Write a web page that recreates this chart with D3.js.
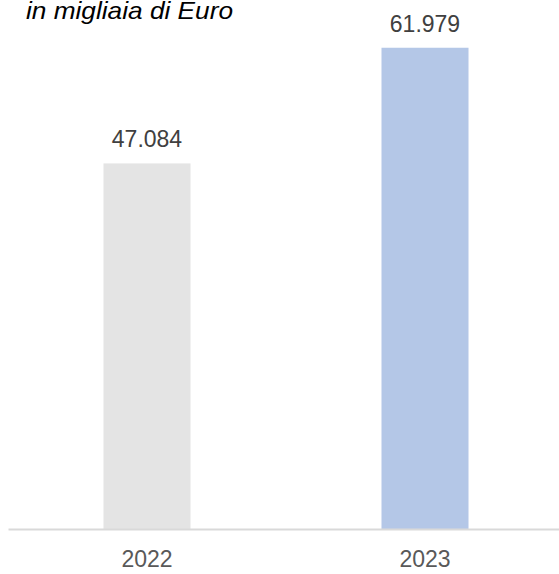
<!DOCTYPE html>
<html>
<head>
<meta charset="utf-8">
<script src="https://cdn.jsdelivr.net/npm/d3@7/dist/d3.min.js"></script>
<style>
  html, body { margin: 0; padding: 0; background: #ffffff; }
  svg { display: block; }
</style>
</head>
<body>
<svg id="chart" width="559" height="574"></svg>
<script>
// Revenue by year, thousands of euro
const years = ["2022", "2023"];
const values = [47084, 61979];
const valueLabels = ["47.084", "61.979"];
const barColors = ["#e4e4e4", "#b4c7e7"];
const unitNote = "in migliaia di Euro";

const svg = d3.select("#chart");
const font = "'Liberation Sans', Arial, sans-serif";

const baseline = 529;
const x = d3.scaleBand()
  .domain(years)
  .range([8, 564])
  .paddingInner(0.687)
  .paddingOuter(0.3435);

const y = d3.scaleLinear()
  .domain([0, 68000])
  .range([baseline, baseline - 528]);

// bars
svg.append("g")
  .selectAll("rect")
  .data(years)
  .join("rect")
  .attr("x", d => x(d))
  .attr("width", x.bandwidth())
  .attr("y", (d, i) => y(values[i]))
  .attr("height", (d, i) => baseline - y(values[i]))
  .attr("fill", (d, i) => barColors[i]);

// value labels above bars
svg.append("g")
  .selectAll("text")
  .data(years)
  .join("text")
  .attr("x", d => x(d) + x.bandwidth() / 2)
  .attr("y", (d, i) => y(values[i]) - 16)
  .attr("text-anchor", "middle")
  .attr("font-family", font)
  .attr("font-size", 23)
  .attr("fill", "#404040")
  .text((d, i) => valueLabels[i]);

// category axis
const axis = svg.append("g")
  .attr("transform", `translate(0,${baseline})`)
  .call(d3.axisBottom(x).tickSize(0).tickSizeOuter(0).tickPadding(22));
axis.select(".domain")
  .attr("stroke", "#d9d9d9")
  .attr("stroke-width", 2);
axis.selectAll("text")
  .attr("font-family", font)
  .attr("font-size", 23)
  .attr("fill", "#595959");

// unit note
svg.append("text")
  .attr("x", 26)
  .attr("y", 18.5)
  .attr("font-family", font)
  .attr("font-size", 24)
  .attr("font-style", "italic")
  .attr("fill", "#000000")
  .attr("textLength", 207)
  .attr("lengthAdjust", "spacingAndGlyphs")
  .text(unitNote);
</script>
</body>
</html>
